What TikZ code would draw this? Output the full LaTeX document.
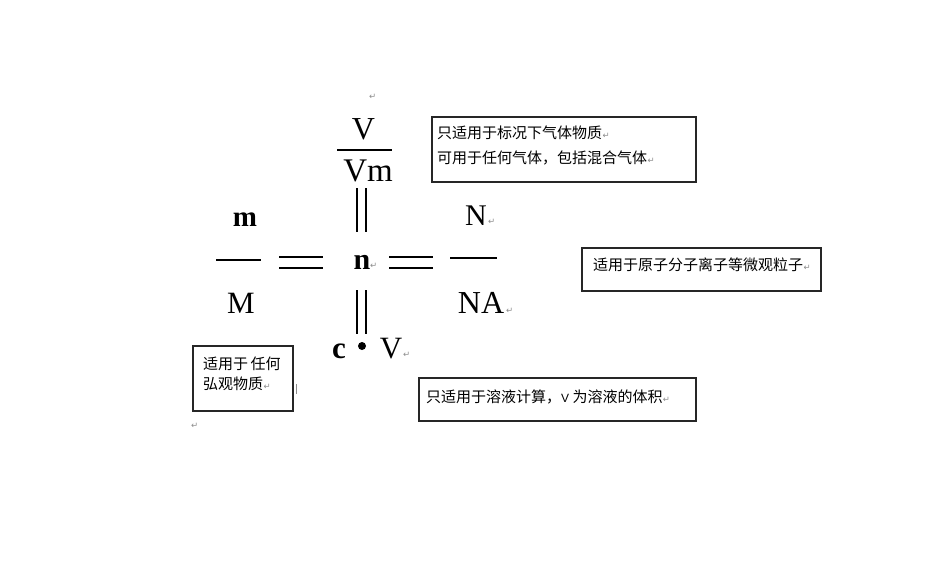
\documentclass[tikz,border=0pt]{standalone}
\usepackage{fontspec}
\setmainfont{Liberation Serif}
\newfontfamily\cjk{Noto Sans CJK SC}
\newfontfamily\dejavu{DejaVu Sans}
\begin{document}
\begin{tikzpicture}[x=1pt,y=-1pt,
  sym/.style={inner sep=0pt,anchor=base},
  note/.style={inner sep=0pt,anchor=base west,font=\cjk\fontsize{15}{17}\selectfont},
  pmark/.style={inner sep=0pt,anchor=base west,text=black!45,font=\dejavu\fontsize{8.5}{9}\selectfont},
  bar/.style={line width=1.6pt},
  eq/.style={line width=2pt},
  box/.style={draw=black!85,line width=1.1pt}]
\useasboundingbox (0,0) rectangle (950,582);
% symbols
\node[sym,font=\fontsize{32}{35}\selectfont] (V1) at (363.5,139) {V};
\node[sym,font=\fontsize{33}{36}\selectfont] (Vm) at (368,181) {Vm};
\node[sym,font=\bfseries\fontsize{29}{32}\selectfont] (m) at (245,226) {m};
\node[sym,font=\fontsize{31}{34}\selectfont] (M) at (241,313) {M};
\node[sym,font=\bfseries\fontsize{30}{33}\selectfont] (n) at (362,269) {n};
\node[sym,font=\fontsize{30}{33}\selectfont] (N) at (476,225) {N};
\node[sym,font=\fontsize{32}{35}\selectfont] (NA) at (481,313) {NA};
\node[sym,font=\bfseries\fontsize{31}{34}\selectfont] (c) at (339,358) {c};
\node[sym,font=\fontsize{31}{34}\selectfont] (V2) at (391,358) {V};
\fill (362,346) circle (4);
% fraction bars
\draw[bar] (337,150) -- (392,150);
\draw[bar] (216,260) -- (261,260);
\draw[bar] (450,258) -- (497,258);
% equals signs
\draw[eq] (357,188) -- (357,232) (366,188) -- (366,232);
\draw[eq] (357,290) -- (357,334) (366,290) -- (366,334);
\draw[eq] (279,257) -- (323,257) (279,268) -- (323,268);
\draw[eq] (389,257) -- (433,257) (389,268) -- (433,268);
% boxes
\draw[box] (432,117) rectangle (696,182);
\draw[box] (582,248) rectangle (821,291);
\draw[box] (193,346) rectangle (293,411);
\draw[box] (419,378) rectangle (696,421);
% notes
\node[note] (t1) at (437,138) {只适用于标况下气体物质};
\node[note] (t2) at (437,163) {可用于任何气体，包括混合气体};
\node[note] (t3) at (593,270) {适用于原子分子离子等微观粒子};
\node[note] (t4) at (203,369) {适用于\,任何};
\node[note] (t5) at (203,389) {弘观物质};
\node[note] (t6) at (426,402) {只适用于溶液计算，\textrm{\fontspec{Liberation Sans}\fontsize{12}{14}\selectfont V} 为溶液的体积};
% paragraph marks
\node[pmark] (p1) at (369,99) {↵};
\node[pmark] (p2) at (488,224) {↵};
\node[pmark] (p3) at (370,268) {↵};
\node[pmark] (p4) at (506,313) {↵};
\node[pmark] (p5) at (403,357) {↵};
\node[pmark] (p6) at (191,428) {↵};
\node[pmark] (p7) at (t1.base east) {↵};
\node[pmark] (p8) at (t2.base east) {↵};
\node[pmark] (p9) at (t3.base east) {↵};
\node[pmark] (p10) at (t5.base east) {↵};
\node[pmark] (p11) at (t6.base east) {↵};
\draw[black!45,line width=0.8pt] (296,384) -- (296,394);
\end{tikzpicture}
\end{document}
